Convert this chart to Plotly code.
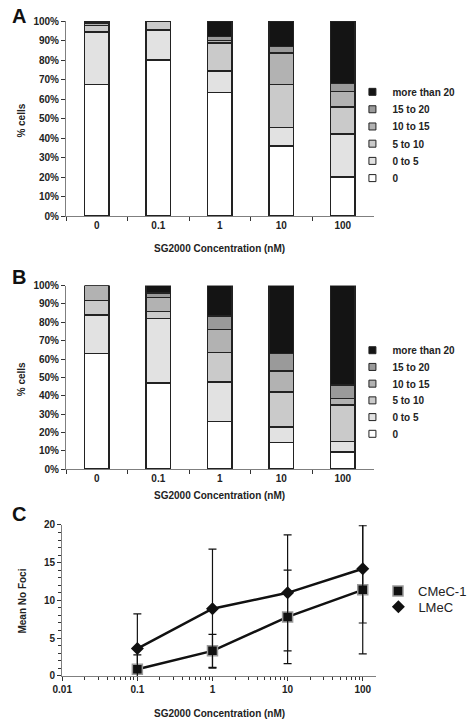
import plotly.graph_objects as go

# ---------------- data ----------------
conc_labels = ["0", "0.1", "1", "10", "100"]
series_names = ["0", "0 to 5", "5 to 10", "10 to 15", "15 to 20", "more than 20"]
series_colors = ["#ffffff", "#e2e2e2", "#cacaca", "#b2b2b2", "#9a9a9a", "#141414"]

# panel A (% cells per category, per concentration)
a_0      = [67.5, 80.0, 63.5, 36.0, 20.0]
a_0_5    = [27.0, 15.5, 11.0,  9.5, 22.0]
a_5_10   = [ 3.3,  4.5, 14.2, 22.0, 14.0]
a_10_15  = [ 1.2,  0.0,  1.3, 16.0,  8.0]
a_15_20  = [ 1.0,  0.0,  2.0,  3.5,  4.0]
a_gt20   = [ 0.0,  0.0,  8.0, 13.0, 32.0]

# panel B
b_0      = [63.0, 47.0, 26.0, 14.5,  9.5]
b_0_5    = [21.0, 35.0, 21.5,  8.5,  5.5]
b_5_10   = [ 8.0,  4.0, 16.0, 19.0, 20.0]
b_10_15  = [ 8.0,  7.5, 12.5, 11.5,  3.5]
b_15_20  = [ 0.0,  2.5,  7.5,  9.5,  7.5]
b_gt20   = [ 0.0,  4.0, 16.5, 37.0, 54.0]

# panel C
c_conc   = [0.1, 1, 10, 100]
cmec_mean = [0.87, 3.3, 7.8, 11.4]
cmec_err  = [1.9, 2.2, 6.2, 8.5]
lmec_mean = [3.6, 8.9, 11.0, 14.2]
lmec_err  = [4.6, 7.9, 7.7, 7.2]

x_title = "SG2000 Concentration (nM)"

# ---------------- figure ----------------
W, H = 472, 726
FONT = "Liberation Sans, Arial, sans-serif"
fig = go.Figure()


def py(px):  # pixel from top -> paper fraction
    return 1 - px / H


def pxx(px):
    return px / W


panelA = [a_0, a_0_5, a_5_10, a_10_15, a_15_20, a_gt20]
panelB = [b_0, b_0_5, b_5_10, b_10_15, b_15_20, b_gt20]

legend_layout = {}
leg_counter = [0]


def new_legend(x_px, y_px, size, weight):
    leg_counter[0] += 1
    key = "legend" if leg_counter[0] == 1 else f"legend{leg_counter[0]}"
    legend_layout[key] = dict(x=pxx(x_px), y=py(y_px), xanchor="left", yanchor="middle",
                              bgcolor="rgba(0,0,0,0)", itemwidth=30,
                              font=dict(family=FONT, size=size, color="#222222",
                                        weight=weight))
    return key


def add_bar_panel(panel, xa, ya, leg_centers):
    for vals, name, col in zip(panel, series_names, series_colors):
        fig.add_trace(go.Bar(x=conc_labels, y=vals, name=name, marker_color=col,
                             marker_line=dict(color="#222222", width=1.5), width=0.4,
                             xaxis=xa, yaxis=ya, showlegend=False))
    # legend entries (small square keys, as in the original)
    for name, col, yc in zip(series_names, series_colors, leg_centers):
        key = new_legend(356, yc, 10, "bold")
        fig.add_trace(go.Scatter(x=[None], y=[None], mode="markers", name=name,
                                 marker=dict(symbol="square", size=7, color=col,
                                             line=dict(color="#222222", width=1)),
                                 xaxis=xa, yaxis=ya, legend=key))


# legend item centres (pixels from top), bottom item first ("0")
add_bar_panel(panelA, "x", "y", [175, 157.5, 140, 122.5, 105, 87.3])
add_bar_panel(panelB, "x2", "y2", [435, 418, 401, 384, 367, 350])

# panel C lines
for mean in (cmec_mean, lmec_mean):
    fig.add_trace(go.Scatter(x=c_conc, y=mean, mode="lines", showlegend=False,
                             line=dict(color="#111111", width=2.5),
                             xaxis="x3", yaxis="y3"))
fig.add_trace(go.Scatter(x=c_conc, y=cmec_mean, mode="markers", name="CMeC-1",
                         marker=dict(symbol="square", size=10, color="#111111",
                                     line=dict(color="#9a9a9a", width=1.5)),
                         error_y=dict(type="data", array=cmec_err, color="#111111",
                                      thickness=1.2, width=4),
                         xaxis="x3", yaxis="y3", legend=new_legend(383, 595, 13, "normal")))
fig.add_trace(go.Scatter(x=c_conc, y=lmec_mean, mode="markers", name="LMeC",
                         marker=dict(symbol="diamond", size=10, color="#111111"),
                         error_y=dict(type="data", array=lmec_err, color="#111111",
                                      thickness=1.2, width=4),
                         xaxis="x3", yaxis="y3", legend=new_legend(383, 611, 13, "normal")))

tickfont = dict(family=FONT, size=10, color="#222222", weight="bold")
axis_common = dict(showgrid=False, zeroline=False, showline=True, linecolor="#7f7f7f",
                   linewidth=1.2, ticks="outside", tickcolor="#333333", ticklen=4,
                   tickwidth=1.2, tickfont=tickfont)

xdomAB = [pxx(58.3), pxx(378)]
fig.update_layout(
    width=W, height=H, margin=dict(l=0, r=0, t=0, b=0),
    paper_bgcolor="white", plot_bgcolor="white",
    barmode="stack",
    font=dict(family=FONT, color="#222222"),
    xaxis=dict(domain=xdomAB, anchor="y", type="category", range=[-0.5, 4.5],
               tickson="boundaries", **axis_common),
    yaxis=dict(domain=[py(213.7), py(15.3)], anchor="x", range=[0, 100], dtick=10,
               ticksuffix="%", **axis_common),
    xaxis2=dict(domain=xdomAB, anchor="y2", type="category", range=[-0.5, 4.5],
                tickson="boundaries", **axis_common),
    yaxis2=dict(domain=[py(471), py(284.3)], anchor="x2", range=[0, 100], dtick=10,
                ticksuffix="%", **axis_common),
    xaxis3=dict(domain=[pxx(54.3), pxx(380)], anchor="y3", type="log", range=[-2, 2.17],
                tickvals=[0.01, 0.1, 1, 10, 100], ticktext=["0.01", "0.1", "1", "10", "100"],
                minor=dict(ticks="outside", ticklen=3, tickcolor="#333333",
                           tickvals=[v * d for d in (0.01, 0.1, 1, 10) for v in range(2, 10)]),
                **axis_common),
    yaxis3=dict(domain=[py(681), py(527.7)], anchor="x3", range=[0, 20], dtick=5,
                minor=dict(ticks="outside", ticklen=3, dtick=1, tickcolor="#333333"),
                **axis_common),
    **legend_layout,
)

bold = dict(family=FONT, size=10, color="#222222", weight="bold")
big = dict(family=FONT, size=20, color="#111111", weight="bold")
ann = [
    dict(text="A", x=pxx(9), y=py(10), font=big),
    dict(text="B", x=pxx(9), y=py(276), font=big),
    dict(text="C", x=pxx(9), y=py(517), font=big),
    dict(text="% cells", x=pxx(12), y=py(117), font=bold, textangle=-90),
    dict(text="% cells", x=pxx(12), y=py(380), font=bold, textangle=-90),
    dict(text="Mean No Foci", x=pxx(12), y=py(605), font=bold, textangle=-90),
    dict(text=x_title, x=pxx(218), y=py(247), font=bold),
    dict(text=x_title, x=pxx(218), y=py(498), font=bold),
    dict(text=x_title, x=pxx(218), y=py(719), font=bold),
]
for a in ann:
    fig.add_annotation(xref="paper", yref="paper", showarrow=False,
                       xanchor="center", yanchor="middle", **a)

fig.write_html("out.html", config={"displayModeBar": False},
               post_script="document.body.style.margin='0';document.body.style.overflow='hidden';")
